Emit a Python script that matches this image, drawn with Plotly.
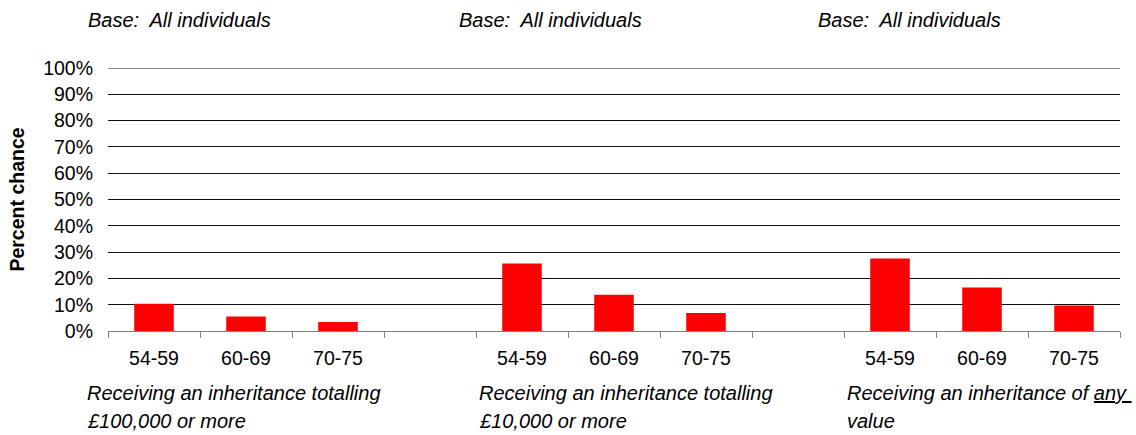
import plotly.graph_objects as go

# categories: three groups of age bands, with empty slots between groups
categories = ["g1_54-59", "g1_60-69", "g1_70-75", "gap1",
              "g2_54-59", "g2_60-69", "g2_70-75", "gap2",
              "g3_54-59", "g3_60-69", "g3_70-75"]
tick_labels = ["54-59", "60-69", "70-75", "",
               "54-59", "60-69", "70-75", "",
               "54-59", "60-69", "70-75"]

bar_cats = ["g1_54-59", "g1_60-69", "g1_70-75",
            "g2_54-59", "g2_60-69", "g2_70-75",
            "g3_54-59", "g3_60-69", "g3_70-75"]
pct_chance = [0.104, 0.055, 0.034, 0.257, 0.138, 0.068, 0.276, 0.165, 0.097]

group_captions = [
    ["Receiving an inheritance totalling", "£100,000 or more"],
    ["Receiving an inheritance totalling", "£10,000 or more"],
    ["Receiving an inheritance of <u>any </u>", "value"],
]
base_text = "Base:  All individuals"

FONT = "Liberation Sans, Arial, sans-serif"

fig = go.Figure()
fig.add_trace(go.Bar(
    x=bar_cats,
    y=pct_chance,
    width=0.43,
    marker=dict(color="#ff0000", line=dict(width=0)),
    hoverinfo="x+y",
))

# captions under each group and base notes above
caption_x = [-0.0227, 0.3646, 0.7283]
base_x = [-0.0217, 0.3449, 0.6996]
for cx, bx, lines in zip(caption_x, base_x, group_captions):
    for k, line in enumerate(lines):
        fig.add_annotation(
            text=f"<i>{line}</i>", xref="paper", yref="paper",
            x=cx, y=-0.2357 - 0.1065 * k, xanchor="left", yanchor="middle",
            showarrow=False, font=dict(family=FONT, size=20, color="black"),
        )
    fig.add_annotation(
        text=f"<i>{base_text}</i>", xref="paper", yref="paper",
        x=bx, y=1.1825, xanchor="left", yanchor="middle",
        showarrow=False, font=dict(family=FONT, size=20, color="black"),
    )

# plotly skips the gridline at the top edge, so draw the 100% line explicitly
fig.add_hline(y=1, line=dict(color="#111111", width=1), layer="below")

fig.update_xaxes(
    type="category",
    categoryorder="array",
    categoryarray=categories,
    range=[-0.5, len(categories) - 0.5],
    tickmode="array",
    tickvals=categories,
    ticktext=tick_labels,
    tickson="boundaries",
    ticks="outside",
    ticklen=6,
    tickcolor="#808080",
    ticklabelstandoff=10,
    showline=True,
    linecolor="#808080",
    linewidth=1,
    showgrid=False,
    tickfont=dict(family=FONT, size=19.5, color="black"),
)
fig.update_yaxes(
    range=[0, 1],
    dtick=0.1,
    tickformat=".0%",
    showgrid=True,
    gridcolor="#111111",
    gridwidth=1,
    zeroline=False,
    ticks="",
    ticklabelstandoff=14,
    tickfont=dict(family=FONT, size=19.5, color="black"),
    title=dict(text="<b>Percent chance</b>", standoff=13,
               font=dict(family=FONT, size=19.5, color="black")),
)

fig.update_layout(
    width=1136,
    height=435,
    margin=dict(l=108, r=16, t=68, b=104),
    plot_bgcolor="white",
    paper_bgcolor="white",
    showlegend=False,
    bargap=0.57,
    font=dict(family=FONT, color="black"),
)

fig.write_html("out.html", config={"displayModeBar": False},
               post_script="document.body.style.margin='0';")
